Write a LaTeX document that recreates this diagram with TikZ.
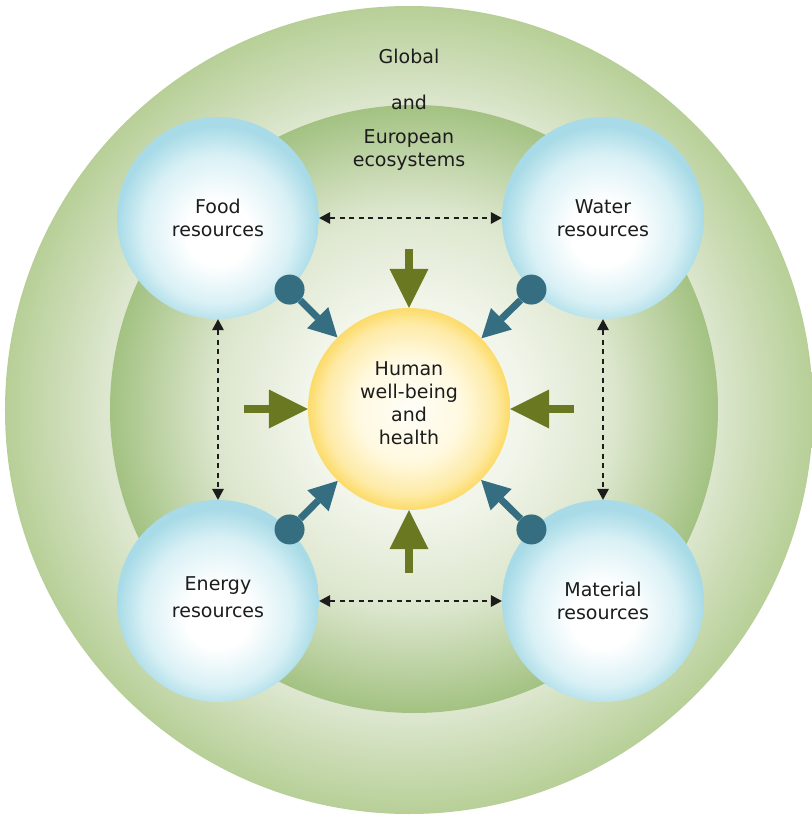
\documentclass[tikz,border=0pt]{standalone}
\usepackage{fontspec}
\setmainfont{DejaVu Sans}
\usetikzlibrary{arrows.meta}

\definecolor{ringdark}{HTML}{B7CF97}
\definecolor{ringlight}{HTML}{DDE7CF}
\definecolor{landdark}{HTML}{A3C282}
\definecolor{landlight}{HTML}{DCE6CD}
\definecolor{landmid}{HTML}{F1F5EA}
\definecolor{landpale}{HTML}{F8FAF3}
\definecolor{bubbleedge}{HTML}{A8DBE7}
\definecolor{bubblemid}{HTML}{D8F0F5}
\definecolor{sunedge}{HTML}{FDDB69}
\definecolor{sunmid}{HTML}{FEEBA8}
\definecolor{sunlight}{HTML}{FFF9E0}
\definecolor{sunpale}{HTML}{FFFEF8}
\definecolor{pinblue}{HTML}{356E81}
\definecolor{olive}{HTML}{6B7822}
\definecolor{inktext}{HTML}{1C1C1C}

% the path's box is the middle 50bp of the shading, so its edge sits at 25bp
\pgfdeclareradialshading{outerring}{\pgfpoint{0bp}{0bp}}{color(0bp)=(ringlight); color(18.8bp)=(ringlight); color(25bp)=(ringdark); color(50bp)=(ringdark)}
\pgfdeclareradialshading{innerland}{\pgfpoint{0bp}{0bp}}{color(0bp)=(landpale); color(9bp)=(landmid); color(16.5bp)=(landlight); color(25bp)=(landdark); color(50bp)=(landdark)}
\pgfdeclareradialshading{bubble}{\pgfpoint{0bp}{-4.5bp}}{color(0bp)=(white); color(8bp)=(white); color(18.5bp)=(bubblemid); color(25bp)=(bubbleedge); color(50bp)=(bubbleedge)}
\pgfdeclareradialshading{sun}{\pgfpoint{0bp}{0bp}}{color(0bp)=(sunpale); color(13bp)=(sunlight); color(21bp)=(sunmid); color(25bp)=(sunedge); color(50bp)=(sunedge)}

\tikzset{
    resource/.style={circle, shading=bubble, minimum size=202pt, inner sep=0pt, align=center, text=inktext},
    wellbeing/.style={circle, shading=sun, minimum size=202pt, inner sep=0pt, align=center, text=inktext},
    knob/.style={circle, fill=pinblue, minimum size=30pt, inner sep=0pt},
    link/.style={line width=2.4pt, draw=inktext, dash pattern=on 5pt off 4.5pt,
        {Triangle[width=12pt,length=11pt,line width=0pt]}-{Triangle[width=12pt,length=11pt,line width=0pt]}},
    feed/.style={line width=7pt, draw=pinblue, -{Triangle[width=30pt,length=28pt,line width=0pt]}},
    pressure/.style={line width=8pt, draw=olive, -{Triangle[width=39pt,length=39pt,line width=0pt]}}
}

\begin{document}
\begin{tikzpicture}[x=1pt, y=1pt, font=\fontsize{19}{23}\selectfont]
        \useasboundingbox (-409,-406) rectangle (403,409);
        \fill[white] (-409,-406) rectangle (403,409);

        % ecosystem rings
        \shade[shading=outerring] (0,-1) circle (404);
        \shade[shading=innerland] (5,0) circle (304);
        \node[text=inktext, align=center] (region) at (0,299) {Global\\[23pt]and\\[11pt]European\\ecosystems};

        % resources and the centre
        \node[resource] (food) at (-191,191) {Food\\resources};
        \node[resource] (water) at (194,191) {Water\\resources};
        \node[resource] (energy) at (-191,-192) {Energy\\[4pt]resources\\[-15pt]};
        \node[resource] (material) at (194,-192) {Material\\resources};
        \node[wellbeing] (human) at (0,0) {Human\\well-being\\and\\health\\[-12pt]};

        \draw[link] (food) -- (water);
        \draw[link] (energy) -- (material);
        \draw[link] (food) -- (energy);
        \draw[link] (water) -- (material);

        \node[knob] (foodpin) at (food.-45) {};
        \node[knob] (waterpin) at (water.225) {};
        \node[knob] (energypin) at (energy.45) {};
        \node[knob] (materialpin) at (material.135) {};
        \draw[feed] (foodpin) -- (human);
        \draw[feed] (waterpin) -- (human);
        \draw[feed] (energypin) -- (human);
        \draw[feed] (materialpin) -- (human);

        \coordinate (fromtop) at (0,160);
        \coordinate (frombottom) at (0,-164);
        \coordinate (fromleft) at (-165,0);
        \coordinate (fromright) at (165,0);
        \foreach \side in {fromtop,frombottom,fromleft,fromright}
            \draw[pressure] (\side) -- (human);
\end{tikzpicture}
\end{document}
